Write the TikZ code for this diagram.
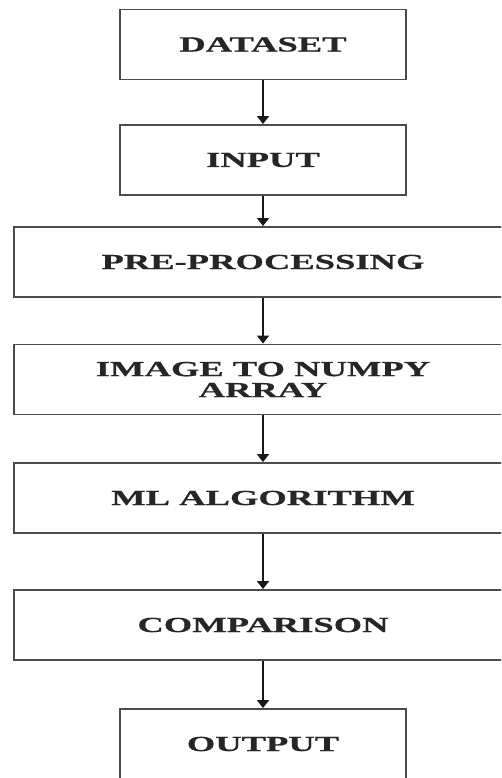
\documentclass[tikz,border=0pt]{standalone}
\usepackage{fontspec}
\usepackage{xcolor}
\usepackage{tikz}
\usetikzlibrary{arrows.meta}
\newfontfamily\flowfont[FakeStretch=1.7, BoldFeatures={FakeBold=0.6}]{Liberation Serif}

\begin{document}
\begin{tikzpicture}[x=1pt, y=-1pt,
  stepbox/.style={rectangle, draw=black!70, line width=1.9pt, minimum height=70pt, align=center, font=\flowfont\bfseries\fontsize{21.5}{21}\selectfont, text=black!85},
  flowarrow/.style={draw=black!90, line width=1.8pt, -{Triangle[width=12pt,length=8pt]}}]
\useasboundingbox (0,0) rectangle (501,778);
\clip (0,0) rectangle (501,778);
\fill[white] (0,0) rectangle (501,778);
\node[stepbox, minimum width=286pt] (dataset) at (263,44.5) {DATASET};
\node[stepbox, minimum width=286pt] (input) at (263,160) {INPUT};
\node[stepbox, minimum width=498pt] (preproc) at (263,262) {PRE-PROCESSING};
\node[stepbox, minimum width=498pt] (numpy) at (263,379.5) {IMAGE TO NUMPY\\ARRAY};
\node[stepbox, minimum width=498pt] (mlalgo) at (263,498) {ML ALGORITHM};
\node[stepbox, minimum width=498pt] (compare) at (263,625) {COMPARISON};
\node[stepbox, minimum width=286pt] (output) at (263,744) {OUTPUT};
\draw[flowarrow] (dataset) -- (input);
\draw[flowarrow] (input) -- (preproc);
\draw[flowarrow] (preproc) -- (numpy);
\draw[flowarrow] (numpy) -- (mlalgo);
\draw[flowarrow] (mlalgo) -- (compare);
\draw[flowarrow] (compare) -- (output);
\end{tikzpicture}
\end{document}
